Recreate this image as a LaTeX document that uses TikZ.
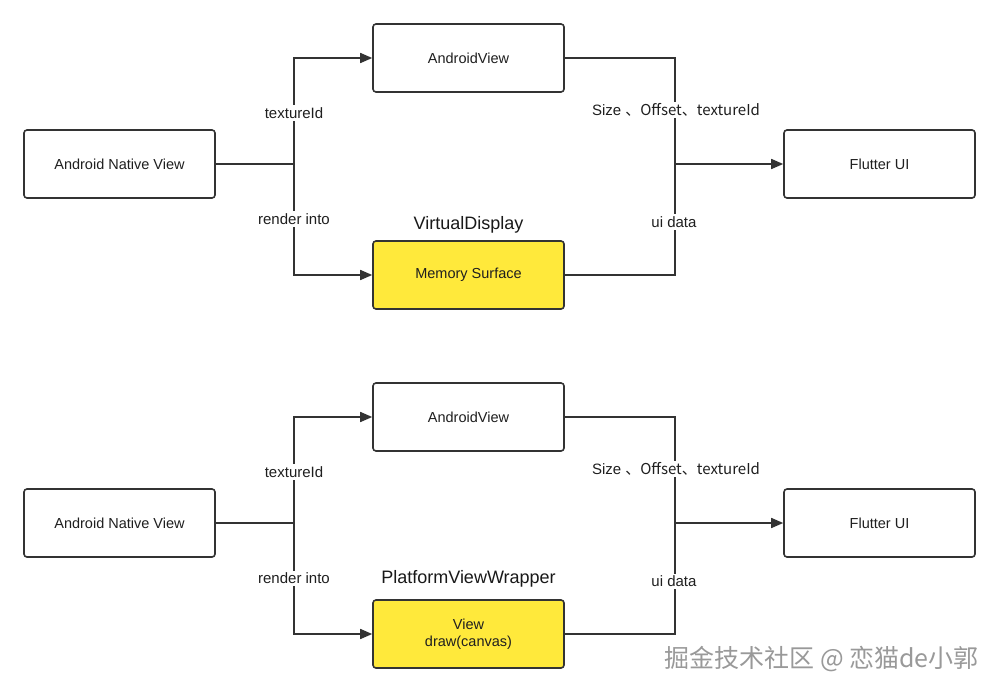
\documentclass[tikz,border=0pt]{standalone}
\usepackage{fontspec}
\setmainfont{Liberation Sans}
\newfontfamily\cjk{Noto Sans CJK SC}
\usetikzlibrary{arrows.meta}
\definecolor{ln}{HTML}{333333}
\definecolor{yel}{HTML}{FFE93B}
\tikzset{
  box/.style={draw=ln, line width=1.6pt, rounded corners=3pt, minimum width=191pt, minimum height=68pt, fill=white, font=\fontsize{14.5}{17}\selectfont, text=black!88, align=center},
  ybox/.style={box, fill=yel},
  conn/.style={draw=ln, line width=1.6pt},
  arr/.style={conn, -{Triangle[length=12pt,width=10pt]}},
  lbl/.style={fill=white, inner sep=2pt, font=\fontsize{15}{17}\selectfont, text=black!88},
  ttl/.style={inner sep=1pt, font=\fontsize{18}{20}\selectfont, text=black!90},
}
\begin{document}
\begin{tikzpicture}[x=1pt,y=-1pt]
\useasboundingbox (0,0) rectangle (1000,693);
\fill[white] (0,0) rectangle (1000,693);
% ---------- top diagram ----------
\node[box]  (nv1) at (119.5,164) {Android Native View};
\node[box]  (av1) at (468.5,58)  {AndroidView};
\node[ybox] (ms1) at (468.5,275) {Memory Surface};
\node[box]  (fl1) at (879.5,164) {Flutter UI};
\coordinate (jl1) at (294,164);
\coordinate (jr1) at (675,164);
\draw[conn] (nv1.east) -- (jl1);
\draw[arr] (jl1) |- (av1.west);
\draw[arr] (jl1) |- (ms1.west);
\draw[conn] (av1.east) -| (jr1);
\draw[conn] (ms1.east) -| (jr1);
\draw[arr] (jr1) -- (fl1.west);
\node[lbl] (t1) at (294,113) {textureId};
\node[lbl] (r1) at (294,219) {render into};
\node[lbl] (s1) at (676,110) {Size \cjk{、}Offset\cjk{、}textureId};
\node[lbl] (u1) at (674,222) {ui data};
\node[ttl] (vd) at (468.5,225) {VirtualDisplay};
% ---------- bottom diagram ----------
\node[box]  (nv2) at (119.5,523) {Android Native View};
\node[box]  (av2) at (468.5,417) {AndroidView};
\node[ybox] (ms2) at (468.5,634) {View\\draw(canvas)};
\node[box]  (fl2) at (879.5,523) {Flutter UI};
\coordinate (jl2) at (294,523);
\coordinate (jr2) at (675,523);
\draw[conn] (nv2.east) -- (jl2);
\draw[arr] (jl2) |- (av2.west);
\draw[arr] (jl2) |- (ms2.west);
\draw[conn] (av2.east) -| (jr2);
\draw[conn] (ms2.east) -| (jr2);
\draw[arr] (jr2) -- (fl2.west);
\node[lbl] (t2) at (294,472) {textureId};
\node[lbl] (r2) at (294,578) {render into};
\node[lbl] (s2) at (676,469) {Size \cjk{、}Offset\cjk{、}textureId};
\node[lbl] (u2) at (674,581) {ui data};
\node[ttl] (pw) at (468.5,579) {PlatformViewWrapper};
% ---------- watermark ----------
\node[inner sep=0pt, font=\cjk\fontsize{25}{27}\selectfont, text=black!40] (wm) at (821.5,659) {掘金技术社区 @ 恋猫de小郭};
\end{tikzpicture}
\end{document}
